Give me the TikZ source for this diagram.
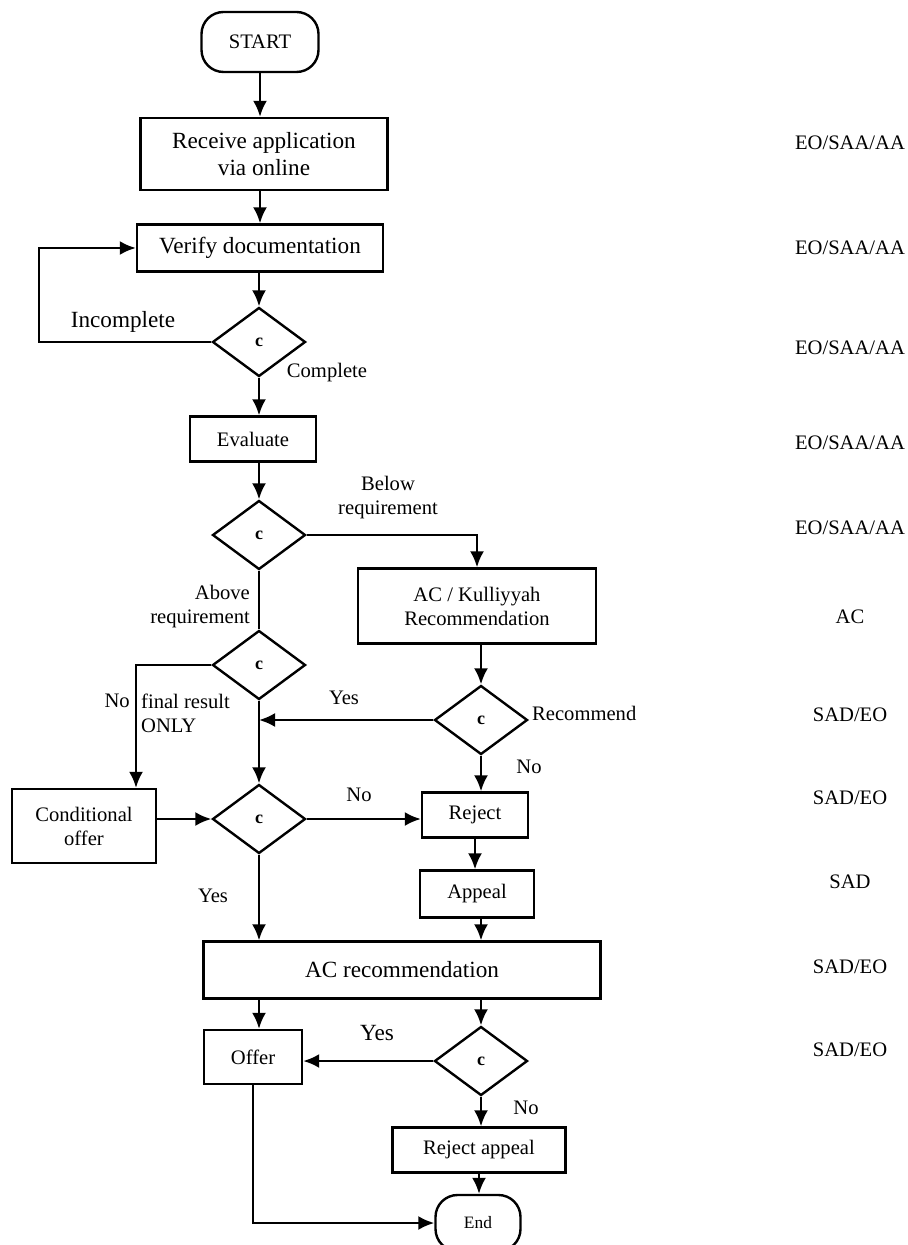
\documentclass[tikz,border=0pt]{standalone}
\usepackage{fontspec}
\setmainfont{Liberation Serif}
\usetikzlibrary{arrows.meta,positioning,shapes.geometric}

\newcommand{\bigtxt}{\fontsize{11.6}{13.5}\selectfont}
\newcommand{\midtxt}{\fontsize{10.3}{12}\selectfont}

\begin{document}
\begin{tikzpicture}[x=0.5pt,y=-0.5pt,line width=1.2pt,>={Latex[length=8pt,width=7pt]},
    every text node part/.style={align=center},
    box/.style={draw,rectangle,inner sep=0pt,font=\midtxt},
    term/.style={draw,rectangle,rounded corners=11pt,inner sep=0pt},
    dec/.style={draw,diamond,inner sep=0pt,minimum width=46.5pt,minimum height=34.5pt,font=\fontsize{9}{10}\selectfont\bfseries},
    lbl/.style={inner sep=0pt,font=\midtxt}]
    \useasboundingbox (0,0) rectangle (908,1245);

    \node[term,font=\midtxt,minimum width=58.5pt,minimum height=30pt] (start) at (260,42) {START};
    \node[box,font=\bigtxt,minimum width=123.5pt,minimum height=36pt] (receive) at (264,154) {Receive application\\ via online};
    \node[box,font=\bigtxt,minimum width=123pt,minimum height=23.5pt] (verify) at (260,248) {Verify documentation};
    \node[dec] (d1) at (259,342) {c};
    \node[box,minimum width=63pt,minimum height=22.5pt] (evaluate) at (253,439) {Evaluate};
    \node[dec] (d2) at (259,535) {c};
    \node[box,minimum width=119pt,minimum height=37.5pt] (ackul) at (477,606) {AC / Kulliyyah\\ Recommendation};
    \node[dec] (d3) at (259,665) {c};
    \node[dec] (d5) at (481,720) {c};
    \node[box,minimum width=72pt,minimum height=37pt] (condoffer) at (84,826) {Conditional\\ offer};
    \node[dec] (d4) at (259,819) {c};
    \node[box,minimum width=53pt,minimum height=22.5pt] (reject) at (475,815) {Reject};
    \node[box,minimum width=57pt,minimum height=23.5pt] (appeal) at (477,894) {Appeal};
    \node[box,font=\bigtxt,minimum width=198.5pt,minimum height=28.5pt] (acrec) at (402,970) {AC recommendation};
    \node[box,minimum width=49pt,minimum height=27pt] (offer) at (253,1057) {Offer};
    \node[dec] (d6) at (481,1061) {c};
    \node[box,minimum width=86.5pt,minimum height=22.5pt] (rejapp) at (479,1150) {Reject appeal};
    \node[term,font=\fontsize{8.7}{10}\selectfont,minimum width=42.5pt,minimum height=28pt] (end) at (478,1223) {End};

    % branch labels
    \node[lbl,font=\bigtxt] (incomplete) at (123,322) {Incomplete};
    \node[lbl] (complete) at (327,373) {Complete};
    \node[lbl] (below) at (388,498) {Below\\ requirement};
    \node[lbl,every text node part/.style={align=right},anchor=east] (above) at (251,607) {Above\\ requirement};
    \node[lbl,anchor=east] (nofinal) at (131,701) {No};
    \node[lbl,every text node part/.style={align=left},anchor=west] (finalres) at (140,713) {final result\\ ONLY};
    \node[lbl] (yes1) at (344,698) {Yes};
    \node[lbl,anchor=west] (recommend) at (531,713) {Recommend};
    \node[lbl] (no1) at (529,767) {No};
    \node[lbl] (no2) at (359,795) {No};
    \node[lbl] (yes2) at (213,896) {Yes};
    \node[lbl,font=\bigtxt] (yes3) at (377,1033) {Yes};
    \node[lbl] (no3) at (526,1108) {No};

    % who does it
    \node[lbl] (role1) at (850,143) {EO/SAA/AA};
    \node[lbl] (role2) at (850,248) {EO/SAA/AA};
    \node[lbl] (role3) at (850,348) {EO/SAA/AA};
    \node[lbl] (role4) at (850,443) {EO/SAA/AA};
    \node[lbl] (role5) at (850,528) {EO/SAA/AA};
    \node[lbl] (role6) at (850,617) {AC};
    \node[lbl] (role7) at (850,715) {SAD/EO};
    \node[lbl] (role8) at (850,798) {SAD/EO};
    \node[lbl] (role9) at (850,882) {SAD};
    \node[lbl] (role10) at (850,967) {SAD/EO};
    \node[lbl] (role11) at (850,1050) {SAD/EO};

    \coordinate (loop) at (39,342);

    \draw[->] (start.south) -- (start.south |- receive.north);
    \draw[->] (receive.south -| start.south) -- (start.south |- verify.north);
    \draw[->] (verify.south -| d1.north) -- (d1.north);
    \draw[->] (d1.west) -- (loop) |- (verify.west);
    \draw[->] (d1.south) -- (d1.south |- evaluate.north);
    \draw[->] (evaluate.south -| d2.north) -- (d2.north);
    \draw[->] (d2.east) -| (ackul.north);
    \draw (d2.south) -- (d3.north);
    \draw[->] (ackul.south -| d5.north) -- (d5.north);
    \draw[->] (d3.west) -| ([xshift=26pt]condoffer.north);
    \draw[->] (d3.south) -- (d4.north);
    \draw[->] (d5.west) -- (d5.west -| d3.south);
    \draw[->] (d5.south) -- (d5.south |- reject.north);
    \draw[->] (condoffer.east |- d4.west) -- (d4.west);
    \draw[->] (d4.east) -- (d4.east -| reject.west);
    \draw[->] (reject.south) -- (reject.south |- appeal.north);
    \draw[->] (appeal.south -| d6.north) -- (d6.north |- acrec.north);
    \draw[->] (d4.south) -- (d4.south |- acrec.north);
    \draw[->] (acrec.south -| d4.south) -- (offer.north -| d4.south);
    \draw[->] (d6.north |- acrec.south) -- (d6.north);
    \draw[->] (d6.west) -- (d6.west -| offer.east);
    \draw[->] (d6.south) -- (d6.south |- rejapp.north);
    \draw[->] (rejapp.south) -- (rejapp.south |- end.north);
    \draw[->] (offer.south) |- (end.west);
\end{tikzpicture}
\end{document}
